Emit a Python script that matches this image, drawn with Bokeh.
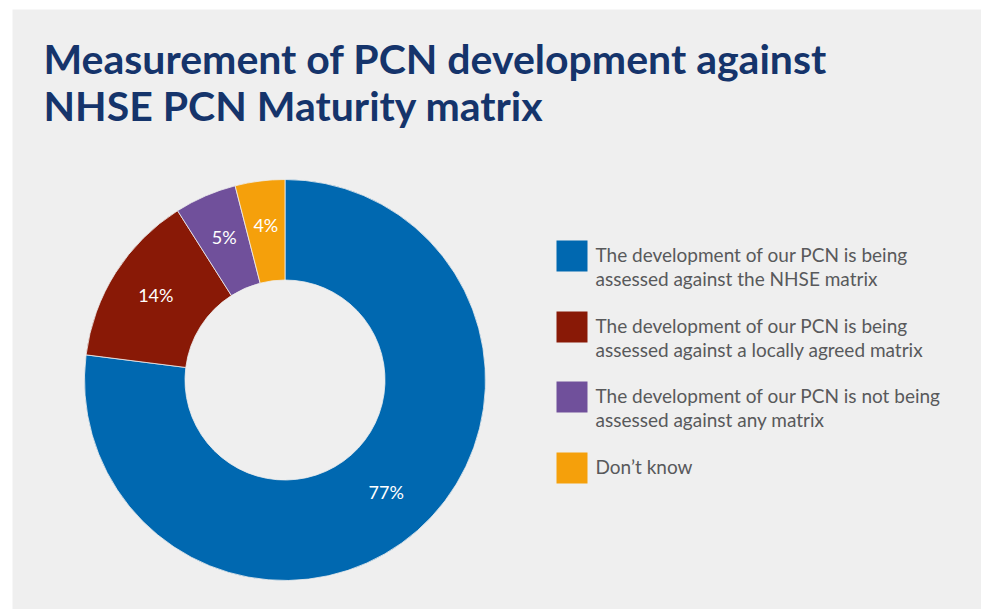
import math
from bokeh.plotting import figure
from bokeh.models import Range1d
from bokeh.core.properties import value
from bokeh.embed import file_html
from bokeh.resources import INLINE

# ---- data ----
title_lines = ["Measurement of PCN development against", "NHSE PCN Maturity matrix"]
categories = [
    ["The development of our PCN is being", "assessed against the NHSE matrix"],
    ["The development of our PCN is being", "assessed against a locally agreed matrix"],
    ["The development of our PCN is not being", "assessed against any matrix"],
    ["Don\u2019t know"],
]
values = [77, 14, 5, 4]
labels = ["77%", "14%", "5%", "4%"]
colors = ["#0068B0", "#891906", "#70509B", "#F5A00B"]

BG = "#EFEFEF"
W, H = 981, 609

p = figure(width=W, height=H, output_backend="svg", toolbar_location=None,
           x_range=Range1d(12, 981), y_range=Range1d(8, 608),
           min_border_left=12, min_border_right=0, min_border_top=9, min_border_bottom=0,
           border_fill_color="white", background_fill_color=BG, outline_line_color=None)
p.axis.visible = False
p.grid.visible = False


def Y(py):  # page pixel y -> data y
    return 617 - py


# ---- donut ----
cx, cy = 284.5, Y(379.5)
total = sum(values)
cum = 0.0
starts, ends, mids = [], [], []
for v in values:
    a_end = math.pi / 2 - 2 * math.pi * cum / total
    cum += v
    a_start = math.pi / 2 - 2 * math.pi * cum / total
    starts.append(a_start)
    ends.append(a_end)
    mids.append((a_start + a_end) / 2)

p.annular_wedge(x=[cx] * len(values), y=[cy] * len(values), inner_radius=100, outer_radius=200.5,
                start_angle=starts, end_angle=ends, direction="anticlock",
                fill_color=colors, line_color=BG, line_width=0.8)

lr = 153
p.text(x=[cx + lr * math.cos(m) for m in mids], y=[cy + lr * math.sin(m) + 3 for m in mids],
       text=labels, text_color="white", text_font=value("Lato"), text_font_size="18px",
       text_align="center", text_baseline="middle")

# ---- title ----
p.text(x=[43, 43], y=[Y(58), Y(105)], text=title_lines, text_color="#15346B",
       text_font=value("Lato"), text_font_style="bold", text_font_size="41px",
       text_align="left", text_baseline="alphabetic")

# ---- legend ----
sq_top = [240, 311, 381, 452]
p.rect(x=[571.5] * 4, y=[Y(t + 15.5) for t in sq_top], width=31, height=31,
       fill_color=colors, line_color=None)
tx, ty, tt = [], [], []
for t, lines in zip(sq_top, categories):
    for j, ln in enumerate(lines):
        tx.append(595)
        ty.append(Y(t + 14 + 24 * j))
        tt.append(ln)
p.text(x=tx, y=ty, text=tt, text_color="#58595B", text_font=value("Lato"),
       text_font_size="19px", text_align="left", text_baseline="alphabetic")

open("out.html", "w").write(file_html(p, INLINE))
